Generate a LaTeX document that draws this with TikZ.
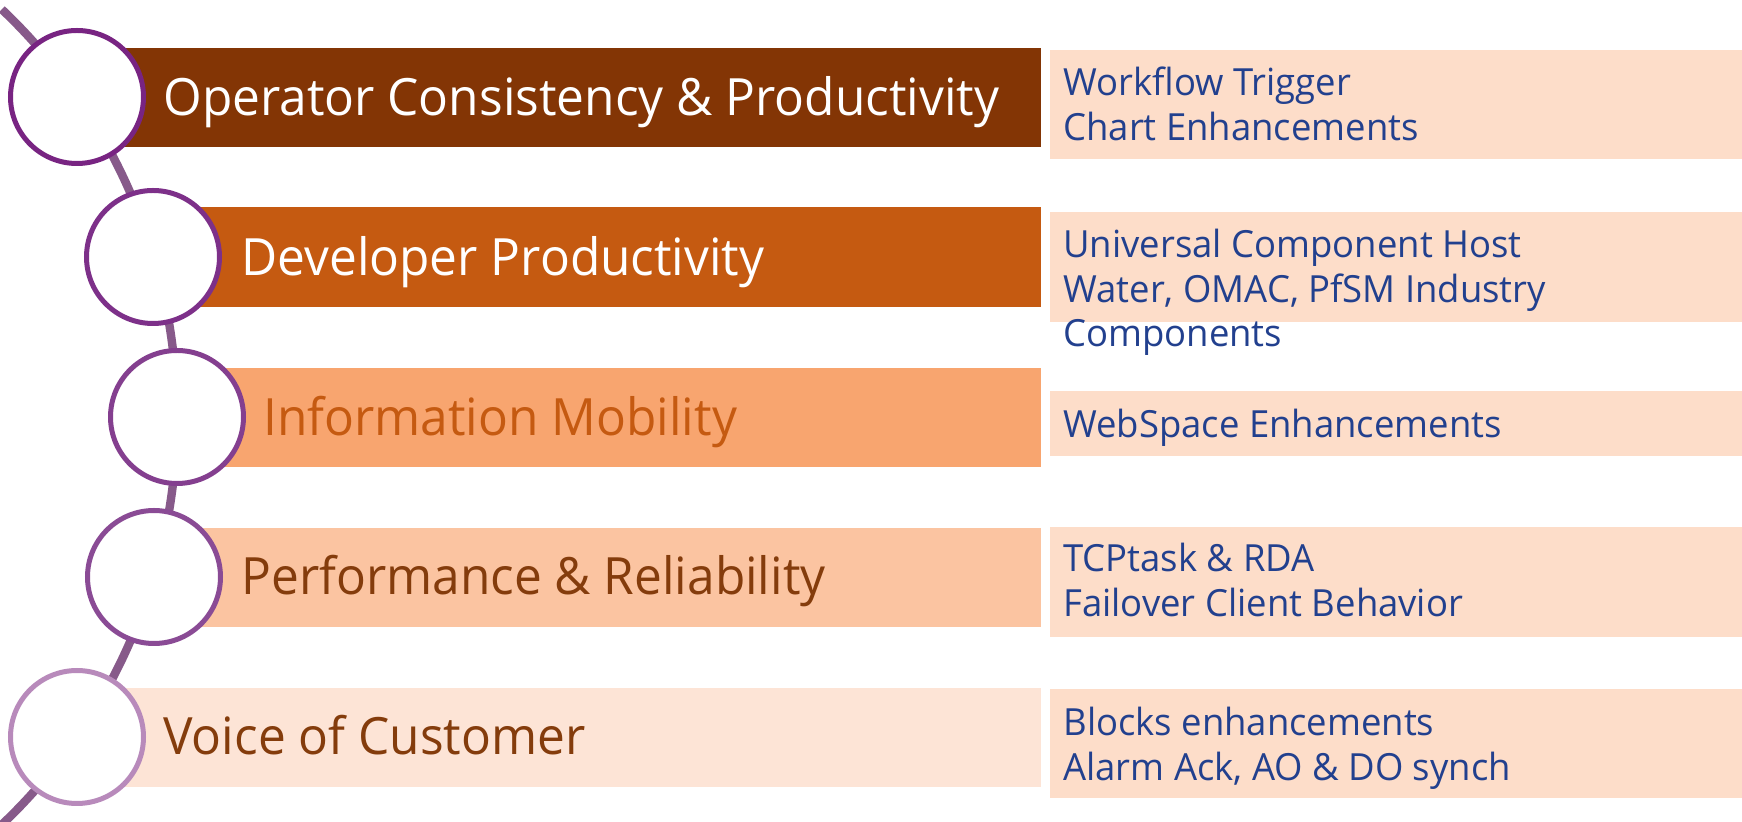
\documentclass[tikz,border=0pt]{standalone}
\usepackage{fontspec}
\setmainfont{Open Sans}
\usepackage{graphicx}
\usetikzlibrary{calc}
\definecolor{barA}{HTML}{833505}
\definecolor{barB}{HTML}{C55A11}
\definecolor{barC}{HTML}{F8A56F}
\definecolor{barD}{HTML}{FBC4A1}
\definecolor{barE}{HTML}{FDE4D6}
\definecolor{boxc}{HTML}{FDDDC9}
\definecolor{ringA}{HTML}{782482}
\definecolor{ringB}{HTML}{7D3089}
\definecolor{ringC}{HTML}{843F8F}
\definecolor{ringD}{HTML}{8A4B95}
\definecolor{ringE}{HTML}{B88ABB}
\definecolor{arcc}{HTML}{875A8A}
\definecolor{bluet}{HTML}{22408E}
\definecolor{darko}{HTML}{C55A11}
\definecolor{brownt}{HTML}{843C0C}
\newcommand\rlines[1]{\scalebox{0.975}[1]{\vtop{\baselineskip=22.25pt\lineskiplimit=-20pt #1}}}
\newcommand\lx[1]{\scalebox{0.965}[1]{#1}}
\begin{document}
\begin{tikzpicture}[x=0.5pt,y=0.5pt,
  ring/.style={circle, fill=white, line width=2.5pt, minimum size=66.5pt, inner sep=0pt},
  lbl/.style={anchor=base west, inner sep=0pt, font=\fontsize{25.7}{30}\selectfont},
  rtx/.style={anchor=base west, inner sep=0pt, text=bluet, font=\fontsize{18.7}{22.25}\selectfont},
  arcline/.style={draw=arcc, line width=4.2pt}]
\useasboundingbox (0,0) rectangle (1742,-822);
% background arc
\coordinate (arcC) at (-385,-417);
\draw[arcline] ($(arcC)+(46.5:562)$) arc[start angle=46.5, end angle=-46.5, radius=562];
% bars
\fill[barA] (77,-48) rectangle (1041,-147);
\fill[barB] (153,-207) rectangle (1041,-307);
\fill[barC] (177,-368) rectangle (1041,-467);
\fill[barD] (154,-528) rectangle (1041,-627);
\fill[barE] (77,-688) rectangle (1041,-787);
% right boxes
\fill[boxc] (1050,-50) rectangle (1742,-159);
\fill[boxc] (1050,-212) rectangle (1742,-322);
\fill[boxc] (1050,-391) rectangle (1742,-456);
\fill[boxc] (1050,-527) rectangle (1742,-637);
\fill[boxc] (1050,-689) rectangle (1742,-798);
% circles
\node[ring, draw=ringA] (k1) at (77,-97) {};
\node[ring, draw=ringB] (k2) at (153,-257) {};
\node[ring, draw=ringC] (k3) at (177,-417) {};
\node[ring, draw=ringD] (k4) at (154,-577) {};
\node[ring, draw=ringE] (k5) at (77,-737) {};
% left labels
\node[lbl, text=white] (t1) at (163,-116) {\lx{Operator Consistency \& Productivity}};
\node[lbl, text=white] (t2) at (241,-276) {\lx{Developer Productivity}};
\node[lbl, text=darko] (t3) at (263,-436) {\lx{Information Mobility}};
\node[lbl, text=brownt] (t4) at (241,-595) {\lx{Performance \& Reliability}};
\node[lbl, text=brownt] (t5) at (163,-755) {\lx{Voice of Customer}};
% right texts
\node[rtx] (d1) at (1063,-96) {\rlines{\hbox{Workflow Trigger}\hbox{Chart Enhancements}}};
\node[rtx] (d2) at (1063,-258) {\rlines{\hbox{Universal Component Host}\hbox{Water, OMAC, PfSM Industry}\hbox{Components}}};
\node[rtx] (d3) at (1063,-438) {\rlines{\hbox{WebSpace Enhancements}}};
\node[rtx] (d4) at (1063,-572) {\rlines{\hbox{TCPtask \& RDA}\hbox{Failover Client Behavior}}};
\node[rtx] (d5) at (1063,-736) {\rlines{\hbox{Blocks enhancements}\hbox{Alarm Ack, AO \& DO synch}}};
\end{tikzpicture}
\end{document}
